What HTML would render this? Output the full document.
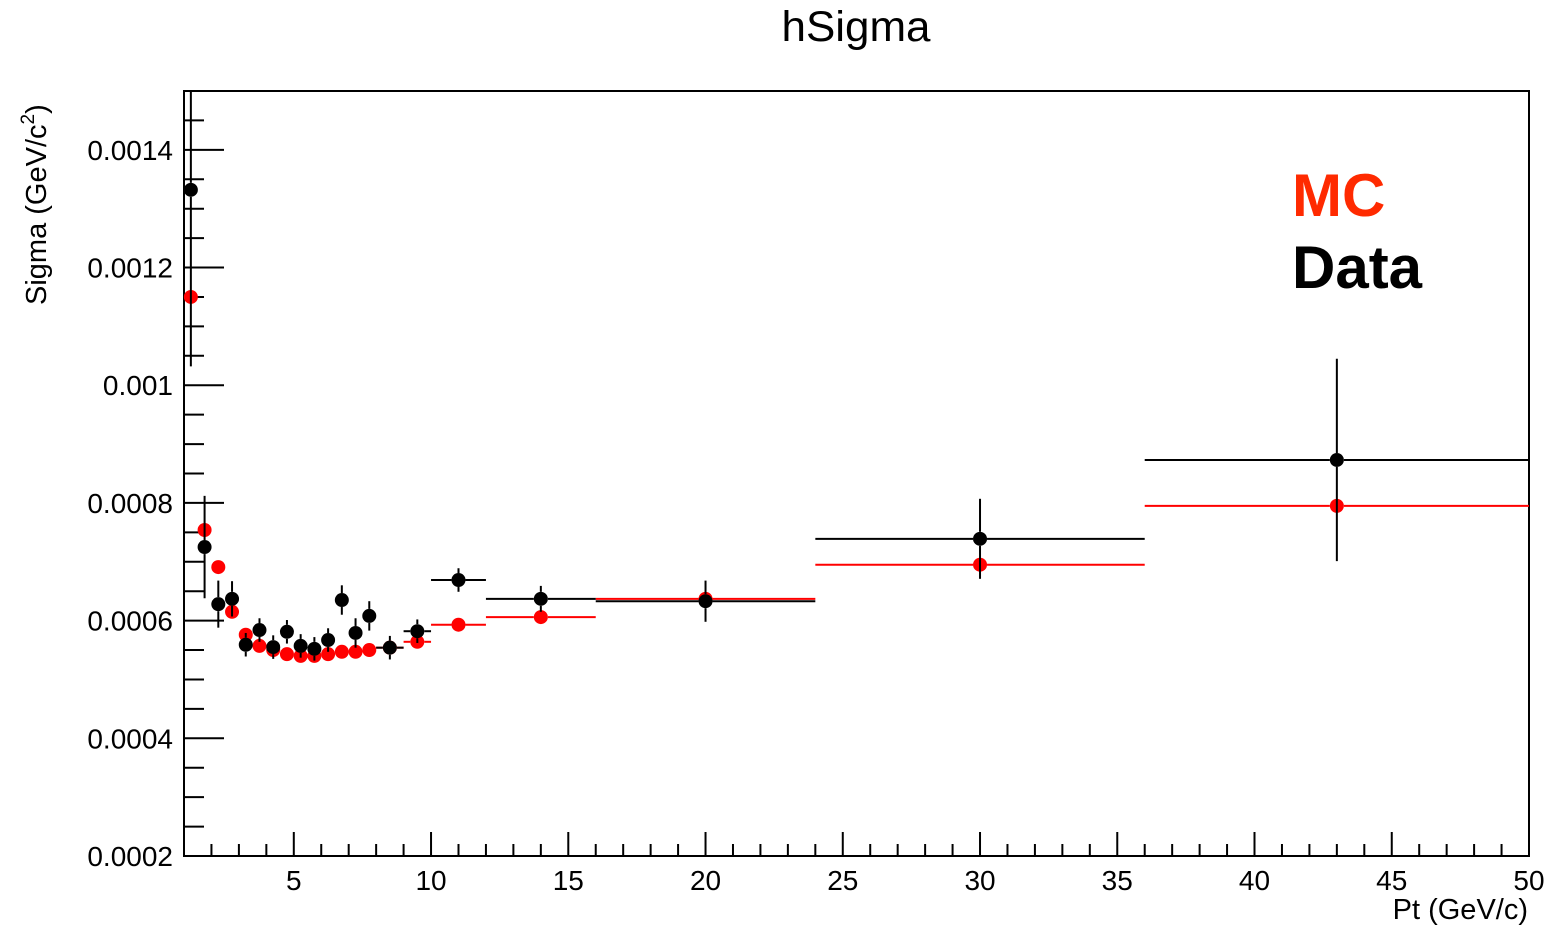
<!DOCTYPE html>
<html><head><meta charset="utf-8"><style>
body{margin:0;background:#fff;}
svg{display:block;font-family:"Liberation Sans",sans-serif;}
</style></head><body>
<svg id="chart" width="1556" height="937" viewBox="0 0 1556 937" xmlns="http://www.w3.org/2000/svg">
<text x="856" y="41" font-size="43" text-anchor="middle" textLength="149" lengthAdjust="spacingAndGlyphs">hSigma</text>
<rect x="184" y="91" width="1345" height="765" fill="none" stroke="#000" stroke-width="2"/>
<g id="axes"></g>
<g id="marks"></g>
<text x="1528" y="919" font-size="29" text-anchor="end">Pt (GeV/c)</text>
<text transform="translate(46,305) rotate(-90)" font-size="29">Sigma (GeV/c<tspan font-size="19" dy="-12">2</tspan><tspan dy="12">)</tspan></text>
<text x="1292" y="216" font-size="60" font-weight="bold" fill="#ff2a00">MC</text>
<text x="1292" y="288" font-size="60" font-weight="bold" fill="#000">Data</text>
</svg>
<script>
const binLow  = [1,1.5,2,2.5,3,3.5,4,4.5,5,5.5,6,6.5,7,7.5,8,9,10,12,16,24,36];
const binHigh = [1.5,2,2.5,3,3.5,4,4.5,5,5.5,6,6.5,7,7.5,8,9,10,12,16,24,36,50];
const dataVals = [0.001332,0.000725,0.000628,0.000637,0.000559,0.000584,0.000555,0.000581,0.000557,0.000552,0.000567,0.000635,0.000579,0.000608,0.000554,0.000582,0.000669,0.000637,0.000633,0.000739,0.000873];
const dataErrs = [0.00030,0.000087,0.00004,0.00003,0.00002,0.00002,0.00002,0.00002,0.00002,0.00002,0.00002,0.000025,0.000025,0.000025,0.00002,0.00002,0.00002,0.000022,0.000035,0.000068,0.000172];
const mcVals = [0.00115,0.000754,0.000691,0.000615,0.000576,0.000557,0.00055,0.000543,0.00054,0.00054,0.000543,0.000547,0.000547,0.00055,0.000554,0.000564,0.000593,0.000606,0.000637,0.000695,0.000795];
const xTicks = [5,10,15,20,25,30,35,40,45,50];
const yTicks = [0.0002,0.0004,0.0006,0.0008,0.001,0.0012,0.0014];
const yTickLabels = ["0.0002","0.0004","0.0006","0.0008","0.001","0.0012","0.0014"];

const X0=184,X1=1529,Y0=856,Y1=91,XMIN=1,XMAX=50,YMIN=0.0002,YMAX=0.0015;
const sx=v=>X0+(v-XMIN)/(XMAX-XMIN)*(X1-X0);
const sy=v=>Y0-(v-YMIN)/(YMAX-YMIN)*(Y0-Y1);
const NS="http://www.w3.org/2000/svg";
const axes=document.getElementById('axes'), marks=document.getElementById('marks');
function mk(tag,attrs,parent){const e=document.createElementNS(NS,tag);for(const k in attrs)e.setAttribute(k,attrs[k]);parent.appendChild(e);return e;}
function clampY(y){return Math.max(Y1,Math.min(Y0,y));}

for(let v=2;v<=50;v++){
  const major=v%5===0, x=sx(v);
  const t=mk('line',{x1:x,x2:x,y1:Y0,y2:Y0-(major?24:12),stroke:'#000','stroke-width':2},axes);
  
  
}
xTicks.forEach(v=>{
  const t=mk('text',{x:sx(v),y:890,'font-size':28,'text-anchor':'middle'},axes);
  t.textContent=v;
  
  
});
for(let i=0;i*0.00005+0.0002<=0.0015+1e-9;i++){
  const v=0.0002+i*0.00005, y=sy(v), major=i%4===0;
  const t=mk('line',{x1:X0,x2:X0+(major?40:20),y1:y,y2:y,stroke:'#000','stroke-width':2},axes);
  
  
}
yTicks.forEach((v,i)=>{
  const t=mk('text',{x:173,y:sy(v)+10,'font-size':28,'text-anchor':'end'},axes);
  t.textContent=yTickLabels[i];
  
  
});

function series(vals,errs,color,name){
  vals.forEach((v,i)=>{
    const c=(binLow[i]+binHigh[i])/2, x=sx(c), y=sy(v);
    const xl=sx(binLow[i]), xh=sx(binHigh[i]);
    const g=mk('g',{},marks);
    
    
    if(xh-xl>16){
      mk('line',{x1:xl,x2:x-7,y1:y,y2:y,stroke:color,'stroke-width':2},g);
      mk('line',{x1:x+7,x2:xh,y1:y,y2:y,stroke:color,'stroke-width':2},g);
    }
    if(errs){
      const e=errs[i];
      const yt=clampY(sy(v+e)), yb=clampY(sy(v-e));
      if(y-yt>7) mk('line',{x1:x,x2:x,y1:yt,y2:y-7,stroke:color,'stroke-width':2},g);
      if(yb-y>7) mk('line',{x1:x,x2:x,y1:y+7,y2:yb,stroke:color,'stroke-width':2},g);
    }
    mk('circle',{cx:x,cy:y,r:7,fill:color},g);
  });
}
series(mcVals,null,'#ff0000','mc');
series(dataVals,dataErrs,'#000000','data');
</script>
</body></html>
